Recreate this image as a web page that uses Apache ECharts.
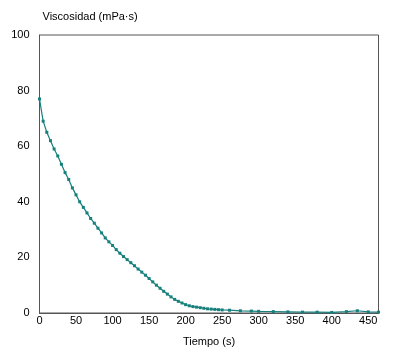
<!DOCTYPE html>
<html>
<head>
<meta charset="utf-8">
<script src="https://cdn.jsdelivr.net/npm/echarts@6/dist/echarts.min.js"></script>
<style>
  html, body { margin: 0; padding: 0; background: #fff; }
  #chart { width: 407px; height: 352px; }
</style>
</head>
<body>
<div id="chart"></div>
<script>
// tiempo (s) y viscosidad (mPa·s)
const tiempo = [
  0, 5, 10, 15, 20, 25, 30, 35, 40, 45, 50, 55, 60, 65, 70, 75, 80, 85, 90, 95,
  100, 105, 110, 115, 120, 125, 130, 135, 140, 145, 150, 155, 160, 165, 170, 175,
  180, 185, 190, 195, 200, 205, 210, 215, 220, 225, 230, 235, 240, 245, 250,
  260, 275, 290, 300, 320, 340, 360, 380, 400, 420, 435, 450, 464
]
const viscosidad = [
  77, 69, 65, 62, 59, 56.5, 53.5, 50.5, 48, 45, 42.5, 40, 38, 36, 34, 32.3, 30.5, 28.8, 27, 25.6,
  24.3, 22.8, 21.5, 20.3, 19.2, 18.1, 17, 15.8, 14.7, 13.6, 12.4, 11.2, 10, 8.9, 7.8, 6.8,
  5.8, 4.9, 4.2, 3.6, 3.0, 2.6, 2.3, 2.1, 1.9, 1.7, 1.5, 1.4, 1.3, 1.2, 1.1,
  1.0, 0.8, 0.7, 0.6, 0.5, 0.4, 0.3, 0.3, 0.2, 0.5, 0.8, 0.4, 0.3
]
const xMax = 464
const yTicks = { min: 0, max: 100, interval: 20 }

const chart = echarts.init(document.getElementById('chart'))
const font = 'Liberation Sans, Arial, sans-serif'

chart.setOption({
  animation: false,
  grid: {
    left: 39.5, top: 35, right: 28.5, bottom: 39,
    show: true, borderColor: '#555', borderWidth: 1
  },
  xAxis: {
    type: 'value',
    min: 0, max: xMax, interval: 50,
    name: 'Tiempo (s)',
    nameLocation: 'middle',
    nameGap: 23,
    nameTextStyle: { color: '#000', fontSize: 11, fontFamily: font },
    axisLine: { show: true, lineStyle: { color: '#555', width: 1 } },
    axisTick: { show: false },
    splitLine: { show: false },
    axisLabel: { color: '#000', fontSize: 11, fontFamily: font, margin: 2, showMaxLabel: false }
  },
  yAxis: {
    type: 'value',
    min: yTicks.min, max: yTicks.max, interval: yTicks.interval,
    name: 'Viscosidad (mPa·s)',
    nameLocation: 'end',
    nameGap: 13,
    nameTextStyle: { color: '#000', fontSize: 11, fontFamily: font, align: 'left', padding: [0, 0, 0, 3] },
    axisLine: { show: true, lineStyle: { color: '#555', width: 1 } },
    axisTick: { show: false },
    splitLine: { show: false },
    axisLabel: { color: '#000', fontSize: 11, fontFamily: font, margin: 10 }
  },
  series: [{
    type: 'line',
    data: tiempo.map((t, i) => [t, viscosidad[i]]),
    symbol: 'rect',
    symbolSize: 3,
    lineStyle: { color: '#17807c', width: 1.2 },
    itemStyle: { color: '#17807c' }
  }]
})
</script>
</body>
</html>
